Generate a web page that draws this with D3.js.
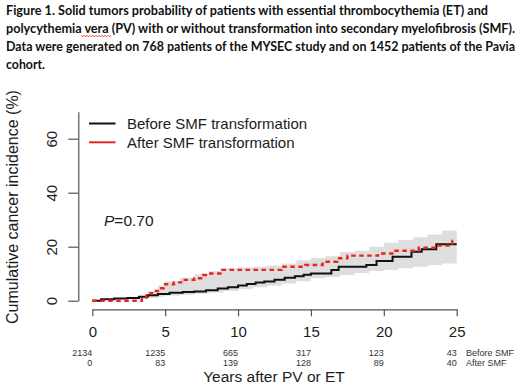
<!DOCTYPE html>
<html>
<head>
<meta charset="utf-8">
<script src="https://cdn.jsdelivr.net/npm/d3@7"></script>
<style>
  body { margin: 0; background: #fff; }
  svg { display: block; }
</style>
</head>
<body>
<div id="mywrap"></div>
<script>
// caption lines
const caption = [
  "Figure 1. Solid tumors probability of patients with essential thrombocythemia (ET) and",
  "polycythemia vera (PV) with or without transformation into secondary myelofibrosis (SMF).",
  "Data were generated on 768 patients of the MYSEC study and on 1452 patients of the Pavia",
  "cohort."
]

// before SMF transformation (step curve)
const beforeT = [0, 0.6, 1.5, 2.4, 3.2, 3.8, 4.5, 5.3, 6.2, 7.0, 7.8, 8.6, 9.3, 10.0, 10.6, 11.2, 11.8, 12.5, 13.2, 13.9, 14.5, 15.0, 16.4, 16.9, 18.8, 19.5, 20.6, 21.9, 22.6, 23.6, 25]
const beforeV = [0, 0.5, 0.8, 1.0, 1.5, 2.0, 2.5, 2.9, 3.2, 3.4, 3.9, 4.5, 5.0, 5.6, 6.2, 6.7, 7.1, 7.8, 8.5, 9.1, 9.6, 10.1, 11.4, 12.6, 13.2, 14.7, 16.3, 18.1, 19.1, 20.9, 20.9]

// after SMF transformation
const afterT = [0, 3.4, 3.7, 4.1, 4.5, 4.9, 5.6, 6.2, 7.0, 7.6, 7.9, 8.9, 13.0, 14.6, 15.8, 16.8, 17.5, 19.6, 20.8, 22.4, 23.6, 24.7, 25]
const afterV = [0, 1.2, 2.7, 3.6, 4.6, 6.1, 6.8, 7.7, 8.3, 9.5, 10.1, 11.4, 12.6, 13.2, 14.4, 15.7, 16.7, 17.5, 18.5, 19.6, 20.4, 22.1, 22.1]

// confidence band
const bandT = [0, 3.4, 3.8, 4.5, 5, 6, 7, 8, 9, 10, 11, 12, 13, 14, 15, 16, 17, 18, 19, 20, 21, 22, 23, 24, 25]
const bandHi = [0, 1.5, 3.5, 5.5, 7.2, 8.5, 9.8, 11, 12, 12.3, 12.6, 13, 13.8, 15, 15.8, 16.5, 18, 18.5, 20, 21.5, 22.5, 23.5, 24.5, 26, 26.8]
const bandLo = [0, 0.8, 1.0, 1.5, 1.8, 2.2, 2.6, 3.0, 3.6, 4.2, 5.0, 5.6, 6.4, 7.2, 8.3, 8.8, 9.5, 10.3, 11.0, 11.4, 12.0, 12.6, 13.2, 13.8, 14.5]

// number at risk
const riskTimes = [0, 5, 10, 15, 20, 25]
const riskBefore = [2134, 1235, 665, 317, 123, 43]
const riskAfter = [0, 83, 139, 128, 89, 40]

const xTicks = [0, 5, 10, 15, 20, 25]
const yTicks = [0, 20, 40, 60]

const seriesNames = ["Before SMF transformation", "After SMF transformation"]
const riskNames = ["Before SMF", "After SMF"]

let svg = d3.select("#mywrap").append("svg")
    .attr("width", 520)
    .attr("height", 386)

const sans = "'Liberation Sans', Arial, sans-serif"
const ink = "#1c1c1c"

// caption
const capLen = [482, 509, 509, 39]
svg.append("g")
    .selectAll("text")
    .data(caption)
    .enter()
    .append("text")
    .attr("x", 6)
    .attr("y", (d, i) => 15 + i * 18)
    .attr("textLength", (d, i) => capLen[i])
    .attr("lengthAdjust", "spacingAndGlyphs")
    .attr("font-family", "Lato, 'Open Sans', sans-serif")
    .attr("font-weight", "bold")
    .attr("font-size", 12.5)
    .attr("fill", "#111")
    .text(d => d)

// squiggle under "vera"
let sq = "M81,35.3"
for (let x = 81; x < 109; x += 3) sq += ` l1.5,1.6 l1.5,-1.6`
svg.append("path").attr("d", sq).attr("fill", "none").attr("stroke", "#e03030").attr("stroke-width", 0.9)

let xScale = d3.scaleLinear().domain([0, 25]).range([92.3, 456.7])
let yScale = d3.scaleLinear().domain([0, 70]).range([300.7, 111.7])

// band
const band = bandT.map((t, i) => [t, bandLo[i], bandHi[i]])
svg.append("path")
    .datum(band)
    .attr("fill", "#dedede")
    .attr("d", d3.area()
        .curve(d3.curveStepAfter)
        .x(d => xScale(d[0]))
        .y0(d => yScale(d[1]))
        .y1(d => yScale(d[2])))

const line = d3.line()
    .curve(d3.curveStepAfter)
    .x(d => xScale(d[0]))
    .y(d => yScale(d[1]))

svg.append("path")
    .datum(beforeT.map((t, i) => [t, beforeV[i]]))
    .attr("fill", "none")
    .attr("stroke", "#111")
    .attr("stroke-width", 2)
    .attr("d", line)

svg.append("path")
    .datum(afterT.map((t, i) => [t, afterV[i]]))
    .attr("fill", "none")
    .attr("stroke", "#e8261f")
    .attr("stroke-width", 2.4)
    .attr("stroke-dasharray", "4.5,3.5")
    .attr("d", line)

// x axis
let xAxis = d3.axisBottom(xScale).tickValues(xTicks).tickSize(7).tickSizeOuter(0).tickPadding(10)
let gx = svg.append("g")
    .attr("transform", "translate(0,309.3)")
    .call(xAxis)
gx.select(".domain").attr("stroke", "#555").attr("stroke-width", 1.2)
gx.selectAll(".tick line").attr("stroke", "#555").attr("stroke-width", 1.2)
gx.selectAll(".tick text")
    .attr("font-family", sans)
    .attr("font-size", 15)
    .attr("fill", ink)

// y axis
let yAxis = d3.axisLeft(yScale).tickValues(yTicks).tickSize(10).tickSizeOuter(0)
let gy = svg.append("g")
    .attr("transform", "translate(78.3,0)")
    .call(yAxis)
gy.select(".domain").attr("stroke", "#555").attr("stroke-width", 1.2)
gy.selectAll(".tick line").attr("stroke", "#555").attr("stroke-width", 1.2)
gy.selectAll(".tick text")
    .attr("font-family", sans)
    .attr("font-size", 15)
    .attr("fill", ink)
    .attr("text-anchor", "middle")
    .attr("x", 0)
    .attr("dy", 0)
    .attr("transform", "translate(-21.5,0) rotate(-90)")

// axis titles
svg.append("text")
    .attr("transform", "translate(18,207) rotate(-90)")
    .attr("text-anchor", "middle")
    .attr("font-family", sans)
    .attr("font-size", 16)
    .attr("fill", ink)
    .text("Cumulative cancer incidence (%)")

svg.append("text")
    .attr("x", 274)
    .attr("y", 382)
    .attr("text-anchor", "middle")
    .attr("font-family", sans)
    .attr("font-size", 15.5)
    .attr("fill", ink)
    .text("Years after PV or ET")

// legend
const legColors = ["#111", "#e8261f"]
let leg = svg.append("g")
leg.selectAll("line")
    .data(seriesNames)
    .enter()
    .append("line")
    .attr("x1", 89).attr("x2", 115.5)
    .attr("y1", (d, i) => 123.5 + i * 18.8)
    .attr("y2", (d, i) => 123.5 + i * 18.8)
    .attr("stroke", (d, i) => legColors[i])
    .attr("stroke-width", 2)
leg.selectAll("text")
    .data(seriesNames)
    .enter()
    .append("text")
    .attr("x", 127)
    .attr("y", (d, i) => 129 + i * 18.8)
    .attr("font-family", sans)
    .attr("font-size", 15)
    .attr("fill", ink)
    .text(d => d)

// P value
let pv = svg.append("text")
    .attr("x", 104)
    .attr("y", 226)
    .attr("font-family", sans)
    .attr("font-size", 15.5)
    .attr("fill", ink)
pv.append("tspan").attr("font-style", "italic").text("P")
pv.append("tspan").text("=0.70")

// numbers at risk
const riskRows = [riskBefore, riskAfter]
riskRows.forEach((row, r) => {
    svg.append("g")
        .selectAll("text")
        .data(row)
        .enter()
        .append("text")
        .attr("x", (d, i) => xScale(riskTimes[i]))
        .attr("y", 356 + r * 9.7)
        .attr("text-anchor", "end")
        .attr("font-family", sans)
        .attr("font-size", 9)
        .attr("fill", "#333")
        .text(d => d)
    svg.append("text")
        .attr("x", 466)
        .attr("y", 356 + r * 9.7)
        .attr("font-family", sans)
        .attr("font-size", 9)
        .attr("fill", "#333")
        .text(riskNames[r])
})
</script>
</body>
</html>
